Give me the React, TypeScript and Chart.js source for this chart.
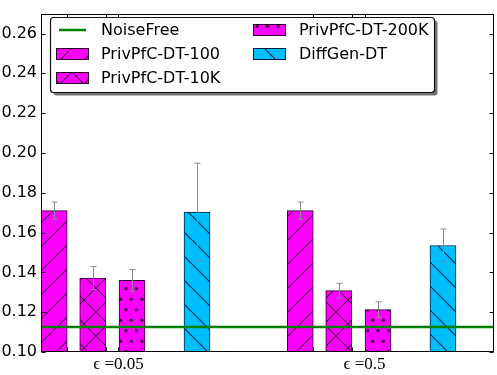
import { useEffect, useRef } from 'react';
import { Chart, registerables } from 'chart.js';

Chart.register(...registerables);

// Privacy budgets (one group of bars each) and their x positions
const groupLabels = ['ϵ =0.05', 'ϵ =0.5'];
const groupCenters = [0, 1];

// Mean error rate and standard deviation per method, one entry per group
const privPfc100 = [0.171, 0.171];
const privPfc100Err = [0.0043, 0.0043];
const privPfc10k = [0.1371, 0.1308];
const privPfc10kErr = [0.0058, 0.0037];
const privPfc200k = [0.136, 0.1213];
const privPfc200kErr = [0.0054, 0.0039];
const diffGen = [0.1703, 0.1535];
const diffGenErr = [0.0245, 0.0083];
const noiseFree = 0.1125;

const yTicks = [0.1, 0.12, 0.14, 0.16, 0.18, 0.2, 0.22, 0.24, 0.26];

// Layout of the bars inside a group (x units, group spacing = 1)
const barOffsets = [-0.2612, -0.1047, 0.0549, 0.3191];
const xMin = -0.315;
const xMax = 1.5264;
const minorTopTicks = [-0.2085, -0.052, 0.7915, 0.948];

type Hatch = 'fwd' | 'back' | 'cross' | 'dots';

function makePattern(base: string, hatch: Hatch, ink: string): CanvasPattern {
  const size = hatch === 'dots' ? 21 : 24;
  const c = document.createElement('canvas');
  c.width = size;
  c.height = size;
  const g = c.getContext('2d')!;
  g.fillStyle = base;
  g.fillRect(0, 0, size, size);
  g.strokeStyle = ink;
  g.fillStyle = ink;
  g.lineWidth = 1.2;
  const diag = (up: boolean) => {
    g.beginPath();
    for (const k of [-size, 0, size]) {
      if (up) {
        g.moveTo(k, size);
        g.lineTo(k + size, 0);
      } else {
        g.moveTo(k, 0);
        g.lineTo(k + size, size);
      }
    }
    g.stroke();
  };
  if (hatch === 'fwd' || hatch === 'cross') diag(true);
  if (hatch === 'back' || hatch === 'cross') diag(false);
  if (hatch === 'dots') {
    const h = size / 2;
    const pts = [
      [h / 2, h / 2], [h / 2 + h, h / 2],
      [0, h / 2 + h], [h, h / 2 + h], [size, h / 2 + h],
    ];
    for (const [x, y] of pts) {
      g.beginPath();
      g.arc(x, y, 1.8, 0, Math.PI * 2);
      g.fill();
    }
  }
  return g.createPattern(c, 'repeat')!;
}

const errorBarsPlugin = {
  id: 'errorBars',
  afterDatasetsDraw(chart: any) {
    const ctx = chart.ctx;
    const y = chart.scales.y;
    ctx.save();
    ctx.strokeStyle = '#8a8a8a';
    ctx.lineWidth = 1;
    chart.data.datasets.forEach((ds: any, di: number) => {
      if (!ds.errors) return;
      const meta = chart.getDatasetMeta(di);
      meta.data.forEach((bar: any, i: number) => {
        const v = ds.data[i].y;
        const e = ds.errors[i];
        const x = Math.round(bar.x) + 0.5;
        const top = y.getPixelForValue(v + e);
        const bot = y.getPixelForValue(v - e);
        ctx.beginPath();
        ctx.moveTo(x, top);
        ctx.lineTo(x, bot);
        ctx.moveTo(x - 3, top);
        ctx.lineTo(x + 3, top);
        ctx.moveTo(x - 3, bot);
        ctx.lineTo(x + 3, bot);
        ctx.stroke();
      });
    });
    ctx.restore();
  },
};

const framePlugin = {
  id: 'frame',
  afterDatasetsDraw(chart: any) {
    const { ctx, chartArea: a, scales } = chart;
    ctx.save();
    ctx.strokeStyle = '#000';
    ctx.lineWidth = 1;
    const L = Math.round(a.left) + 0.5;
    const R = Math.round(a.right) - 0.5;
    const T = Math.round(a.top) + 0.5;
    const B = Math.round(a.bottom) - 0.5;
    ctx.beginPath();
    for (const t of yTicks) {
      const py = Math.round(scales.y.getPixelForValue(t)) + 0.5;
      ctx.moveTo(L, py);
      ctx.lineTo(L + 4, py);
      ctx.moveTo(R, py);
      ctx.lineTo(R - 4, py);
    }
    for (const t of [...groupCenters, ...minorTopTicks]) {
      const px = Math.round(scales.x.getPixelForValue(t)) + 0.5;
      ctx.moveTo(px, T);
      ctx.lineTo(px, T + 4);
      ctx.moveTo(px, B);
      ctx.lineTo(px, B - 4);
    }
    ctx.stroke();
    ctx.strokeRect(L, T, R - L, B - T);
    ctx.restore();
  },
};

function roundRect(ctx: CanvasRenderingContext2D, x: number, y: number, w: number, h: number, r: number) {
  ctx.beginPath();
  ctx.moveTo(x + r, y);
  ctx.lineTo(x + w - r, y);
  ctx.quadraticCurveTo(x + w, y, x + w, y + r);
  ctx.lineTo(x + w, y + h - r);
  ctx.quadraticCurveTo(x + w, y + h, x + w - r, y + h);
  ctx.lineTo(x + r, y + h);
  ctx.quadraticCurveTo(x, y + h, x, y + h - r);
  ctx.lineTo(x, y + r);
  ctx.quadraticCurveTo(x, y, x + r, y);
  ctx.closePath();
}

const legendPlugin = {
  id: 'boxLegend',
  afterDraw(chart: any) {
    const ctx: CanvasRenderingContext2D = chart.ctx;
    const box = { x: 50.5, y: 17.5, w: 384, h: 75 };
    ctx.save();
    roundRect(ctx, box.x + 3, box.y + 3, box.w, box.h, 3);
    ctx.fillStyle = 'rgba(0,0,0,0.55)';
    ctx.fill();
    roundRect(ctx, box.x, box.y, box.w, box.h, 3);
    ctx.fillStyle = '#fff';
    ctx.fill();
    ctx.strokeStyle = '#111';
    ctx.lineWidth = 1.2;
    ctx.stroke();

    const colHandle = [56, 253];
    const colText = [101, 299];
    const rowY = [30, 54, 78];
    ctx.font = '16px "DejaVu Sans"';
    ctx.textBaseline = 'middle';
    ctx.textAlign = 'left';
    chart.data.datasets.forEach((ds: any, i: number) => {
      const col = Math.floor(i / 3);
      const row = i % 3;
      const hx = colHandle[col];
      const cy = rowY[row];
      if (ds.type === 'line') {
        ctx.strokeStyle = ds.borderColor;
        ctx.lineWidth = ds.borderWidth;
        ctx.beginPath();
        ctx.moveTo(hx + 3, cy);
        ctx.lineTo(hx + 30, cy);
        ctx.stroke();
      } else {
        ctx.fillStyle = ds.backgroundColor;
        ctx.fillRect(hx, cy - 6, 33, 12);
        ctx.strokeStyle = ds.borderColor;
        ctx.lineWidth = 1;
        ctx.strokeRect(hx + 0.5, cy - 5.5, 32, 11);
      }
      ctx.fillStyle = '#000';
      ctx.fillText(ds.label, colText[col], cy + 1);
    });
    ctx.restore();
  },
};

export default function App() {
  const ref = useRef<HTMLCanvasElement | null>(null);

  useEffect(() => {
    if (!ref.current) return;
    const magenta = '#ff00ff';
    const cyan = '#00bfff';
    const inkM = 'rgba(60,0,60,0.9)';
    const inkC = 'rgba(0,30,60,0.9)';

    const barSet = (label: string, values: number[], errs: number[], k: number, fill: CanvasPattern, edge: string) => ({
      type: 'bar' as const,
      label,
      data: groupCenters.map((g, i) => ({ x: g + barOffsets[k], y: values[i] })),
      errors: errs,
      backgroundColor: fill,
      borderColor: edge,
      borderWidth: 1,
      borderSkipped: 'start' as const,
      barThickness: 26,
      grouped: false,
      order: 1,
    });

    const chart = new Chart(ref.current, {
      type: 'bar',
      data: {
        datasets: [
          {
            type: 'line',
            label: 'NoiseFree',
            data: [{ x: xMin, y: noiseFree }, { x: xMax, y: noiseFree }],
            borderColor: '#008000',
            borderWidth: 2.5,
            pointRadius: 0,
            order: 0,
          } as any,
          barSet('PrivPfC-DT-100', privPfc100, privPfc100Err, 0, makePattern(magenta, 'fwd', inkM), '#2a002a'),
          barSet('PrivPfC-DT-10K', privPfc10k, privPfc10kErr, 1, makePattern(magenta, 'cross', inkM), '#2a002a'),
          barSet('PrivPfC-DT-200K', privPfc200k, privPfc200kErr, 2, makePattern(magenta, 'dots', inkM), '#2a002a'),
          barSet('DiffGen-DT', diffGen, diffGenErr, 3, makePattern(cyan, 'back', inkC), '#00203a'),
        ],
      },
      options: {
        responsive: false,
        animation: false,
        layout: { padding: { top: 9, right: 3, left: 0, bottom: 0 } },
        plugins: { legend: { display: false }, tooltip: { enabled: false } },
        scales: {
          x: {
            type: 'linear',
            min: xMin,
            max: xMax,
            offset: false,
            grid: { display: false, drawTicks: false, offset: false },
            border: { display: false },
            afterBuildTicks: (s: any) => {
              s.ticks = groupCenters.map((v) => ({ value: v }));
            },
            afterFit: (s: any) => {
              s.height = 23;
            },
            ticks: {
              padding: 2,
              maxRotation: 0,
              color: '#000',
              font: { family: '"Liberation Serif", "DejaVu Serif", serif', size: 17 },
              callback: (v: any) => groupLabels[groupCenters.indexOf(Number(v))] ?? '',
            },
          },
          y: {
            type: 'linear',
            min: 0.1,
            max: 0.27,
            grid: { display: false, drawTicks: false },
            border: { display: false },
            afterBuildTicks: (s: any) => {
              s.ticks = yTicks.map((v) => ({ value: v }));
            },
            afterFit: (s: any) => {
              s.width = 41;
            },
            ticks: {
              padding: 4,
              color: '#000',
              font: { family: '"DejaVu Sans"', size: 16 },
              callback: (v: any) => Number(v).toFixed(2),
            },
          },
        },
      },
      plugins: [errorBarsPlugin, framePlugin, legendPlugin],
    });
    return () => chart.destroy();
  }, []);

  return (
    <div style={{ position: 'fixed', left: 0, top: 0, width: 497, height: 375, background: '#fff' }}>
      <canvas ref={ref} width={497} height={375} />
    </div>
  );
}
